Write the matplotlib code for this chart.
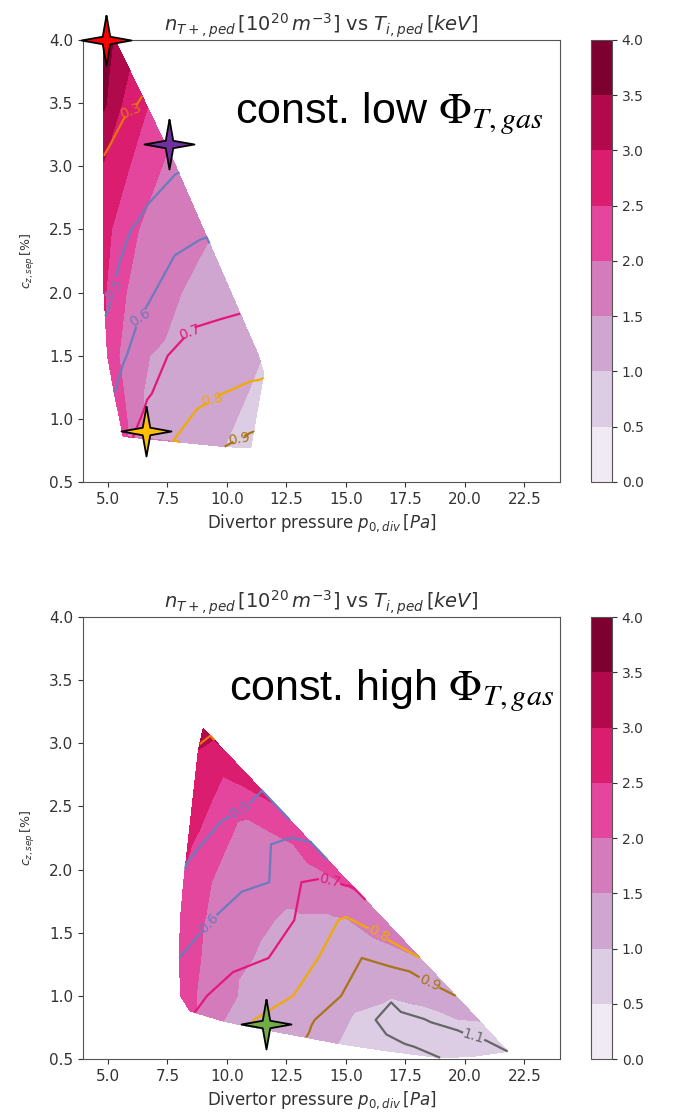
"""
Pedestal density / temperature maps over divertor pressure and
seeding concentration, for two tritium gas puff settings.
"""
import matplotlib
matplotlib.use('Agg')
import matplotlib.pyplot as plt
import matplotlib.tri as mtri
from matplotlib.path import Path

# ---- scan at constant low T gas puff ----
low_p = [4.83, 5.30,
         4.83, 5.58, 6.58,
         4.83, 5.91, 7.27, 7.85,
         4.83, 5.15, 6.29, 7.60, 9.00,
         4.83, 5.77, 6.95, 8.09, 10.17,
         4.98, 5.46, 6.76, 7.51, 9.00, 11.33,
         11.55,
         5.27, 5.67, 6.48, 8.30, 9.83, 10.87, 11.40,
         5.64, 6.45, 7.75, 9.90, 11.00]
low_cz = [4.00, 4.00,
          3.50, 3.50, 3.50,
          3.00, 3.00, 3.00, 3.00,
          2.50, 2.50, 2.50, 2.50, 2.50,
          2.00, 2.00, 2.00, 2.00, 2.00,
          1.50, 1.50, 1.50, 1.50, 1.50, 1.50,
          1.36,
          1.20, 1.20, 1.20, 1.20, 1.20, 1.20, 1.20,
          0.86, 0.85, 0.83, 0.78, 0.77]
low_n = [3.95, 3.40,
         3.58, 3.00, 2.55,
         2.95, 2.50, 2.00, 1.80,
         2.77, 2.50, 2.00, 1.75, 1.55,
         2.55, 2.00, 1.75, 1.50, 1.28,
         2.40, 2.00, 1.50, 1.42, 1.26, 1.02,
         0.96,
         2.30, 2.00, 1.50, 1.30, 1.12, 1.00, 0.92,
         2.15, 1.50, 1.31, 1.00, 0.80]
low_ti = [0.20, 0.22,
          0.25, 0.28, 0.31,
          0.31, 0.36, 0.47, 0.49,
          0.40, 0.45, 0.52, 0.565, 0.59,
          0.47, 0.545, 0.60, 0.65, 0.67,
          0.55, 0.58, 0.66, 0.70, 0.74, 0.76,
          0.79,
          0.60, 0.63, 0.685, 0.76, 0.80, 0.82, 0.83,
          0.68, 0.72, 0.80, 0.90, 0.93]

# ---- scan at constant high T gas puff ----
high_p = [9.00, 8.80, 9.60,
          8.75, 9.80, 10.85,
          8.68, 9.25, 10.40, 12.10,
          8.40, 8.95, 10.50, 11.85, 12.80, 13.61,
          8.18, 9.35, 10.50, 11.78, 13.13, 14.00, 15.11,
          8.04, 9.34, 11.00, 12.00, 12.83, 14.37, 15.00, 16.62,
          8.00, 9.80, 11.75, 13.84, 15.67, 16.80, 18.12,
          8.05, 9.16, 11.00, 12.78, 14.80, 16.90, 18.30, 19.62,
          11.21, 13.73, 15.60, 20.62,
          16.90, 18.30, 19.70, 21.00,
          8.45, 9.85, 10.83, 13.35, 14.76, 16.50, 17.70, 18.96, 20.30, 21.80]
high_cz = [3.12, 2.95, 3.00,
           2.75, 2.75, 2.75,
           2.50, 2.50, 2.50, 2.50,
           2.20, 2.20, 2.20, 2.20, 2.20, 2.20,
           1.90, 1.90, 1.90, 1.90, 1.90, 1.90, 1.90,
           1.60, 1.60, 1.60, 1.60, 1.60, 1.60, 1.60, 1.60,
           1.30, 1.30, 1.30, 1.30, 1.30, 1.30, 1.30,
           1.00, 1.00, 1.00, 1.00, 1.00, 1.00, 1.00, 1.00,
           0.80, 0.80, 0.80, 0.80,
           0.82, 0.74, 0.66, 0.59,
           0.88, 0.80, 0.76, 0.72, 0.62, 0.57, 0.54, 0.51, 0.52, 0.56]
high_n = [3.15, 3.00, 2.95,
          2.89, 2.52, 2.72,
          2.75, 2.50, 2.10, 2.48,
          2.55, 2.35, 1.85, 1.80, 2.00, 2.28,
          2.45, 2.00, 1.75, 1.68, 1.70, 1.85, 2.07,
          2.38, 1.90, 1.62, 1.50, 1.42, 1.43, 1.47, 1.81,
          2.30, 1.70, 1.40, 1.25, 1.15, 1.30, 1.50,
          2.22, 1.85, 1.35, 1.25, 1.10, 1.02, 1.10, 1.21,
          1.30, 1.15, 0.95, 1.00,
          0.82, 0.78, 0.82, 0.88,
          2.10, 1.50, 1.35, 1.12, 0.99, 0.82, 0.80, 0.80, 0.84, 0.90]
high_ti = [0.27, 0.31, 0.33,
           0.37, 0.42, 0.47,
           0.44, 0.46, 0.49, 0.53,
           0.48, 0.50, 0.56, 0.60, 0.615, 0.605,
           0.52, 0.56, 0.59, 0.60, 0.70, 0.71, 0.69,
           0.56, 0.60, 0.63, 0.67, 0.70, 0.79, 0.81, 0.75,
           0.60, 0.67, 0.70, 0.80, 0.90, 0.85, 0.80,
           0.66, 0.70, 0.75, 0.80, 0.90, 1.08, 0.98, 0.90,
           0.805, 0.905, 1.05, 0.99,
           1.15, 1.15, 1.15, 1.14,
           0.69, 0.76, 0.795, 0.895, 0.96, 1.05, 1.08, 1.10, 1.13, 1.10]

# operating points marked on the maps
low_star_p = [4.9, 7.58, 6.6]
low_star_cz = [4.0, 3.18, 0.9]
low_star_colors = ['#ff0000', '#7030a0', '#ffc000']
high_star_p = [11.65]
high_star_cz = [0.78]
high_star_colors = ['#70ad47']

n_levels = [0.0, 0.5, 1.0, 1.5, 2.0, 2.5, 3.0, 3.5, 4.0]
ti_levels = [0.3, 0.5, 0.6, 0.7, 0.8, 0.9, 1.1]
ti_colors = ['#e8730c', '#6b7bbf', '#6b7bbf', '#e5177b', '#f0aa00', '#a87416', '#666666']

# where the Ti labels sit
low_label_pos = [(5.95, 3.45), (5.15, 2.05), (6.35, 1.82), (8.45, 1.66),
                 (9.4, 1.12), (10.5, 0.83)]
high_label_pos = [(10.45, 2.5), (9.25, 1.57), (14.3, 1.9), (16.4, 1.5),
                  (18.5, 1.1), (20.4, 0.7)]

# slim four-pointed star
star_marker = Path([(0, 1), (0.15, 0.15), (1, 0), (0.15, -0.15), (0, -1),
                    (-0.15, -0.15), (-1, 0), (-0.15, 0.15), (0, 1)])

text_color = '#333333'
plt.rcParams['font.size'] = 10
plt.rcParams['text.color'] = text_color
plt.rcParams['axes.labelcolor'] = text_color
plt.rcParams['xtick.color'] = text_color
plt.rcParams['ytick.color'] = text_color
plt.rcParams['axes.edgecolor'] = '#555555'


def screen_triangulation(p, cz):
    # triangulate in the plot's visual proportions (1 Pa is ~1/5.3 of 1 %)
    # so that neighbouring scan points along a row stay connected
    scaled = mtri.Triangulation([v / 5.3 for v in p], cz)
    return mtri.Triangulation(p, cz, triangles=scaled.triangles)


def draw_map(ax, cax, p, cz, n, ti, label_pos, star_p, star_cz, star_colors,
             tag, tag_x):
    tri = screen_triangulation(p, cz)
    cf = ax.tricontourf(tri, n, levels=n_levels, cmap='PuRd')
    cs = ax.tricontour(tri, ti, levels=ti_levels, colors=ti_colors, linewidths=1.6)
    ax.clabel(cs, inline=True, fmt='%1.1f', fontsize=10, manual=label_pos)

    for sp, sc, col in zip(star_p, star_cz, star_colors):
        ax.plot(sp, sc, marker=star_marker, markersize=36, color=col,
                markeredgecolor='black', markeredgewidth=1.3,
                linestyle='none', clip_on=False, zorder=10)

    ax.text(tag_x, 3.34, tag, fontsize=31, color='black', family='Liberation Sans',
            math_fontfamily='stix', va='baseline', ha='left')

    ax.set_xlim(3.95, 24.0)
    ax.set_ylim(0.5, 4.0)
    ax.set_xticks([5.0, 7.5, 10.0, 12.5, 15.0, 17.5, 20.0, 22.5])
    ax.set_yticks([0.5, 1.0, 1.5, 2.0, 2.5, 3.0, 3.5, 4.0])
    ax.tick_params(labelsize=11)
    ax.set_xlabel(r'Divertor pressure $p_{0,div}\,[Pa]$', fontsize=12)
    ax.set_ylabel(r'$c_{z,sep}\,[\%]$', fontsize=9, labelpad=9)
    ax.set_title(r'$n_{T+,ped}\,[10^{20}\,m^{-3}]$ vs $T_{i,ped}\,[keV]$', fontsize=14)

    cbar = plt.colorbar(cf, cax=cax, ticks=n_levels)
    cbar.ax.tick_params(labelsize=10)
    cbar.outline.set_edgecolor('#555555')


fig = plt.figure(figsize=(6.76, 11.17), dpi=100)
ax_low = fig.add_axes([0.1228, 0.5685, 0.7056, 0.3957])
cax_low = fig.add_axes([0.8743, 0.5685, 0.0311, 0.3957])
ax_high = fig.add_axes([0.1228, 0.0519, 0.7056, 0.3957])
cax_high = fig.add_axes([0.8743, 0.0519, 0.0311, 0.3957])

draw_map(ax_low, cax_low, low_p, low_cz, low_n, low_ti, low_label_pos,
         low_star_p, low_star_cz, low_star_colors,
         r'const. low $\Phi_{T,gas}$', 10.35)
draw_map(ax_high, cax_high, high_p, high_cz, high_n, high_ti, high_label_pos,
         high_star_p, high_star_cz, high_star_colors,
         r'const. high $\Phi_{T,gas}$', 10.1)

plt.savefig('out.png', dpi=100)
plt.close()
